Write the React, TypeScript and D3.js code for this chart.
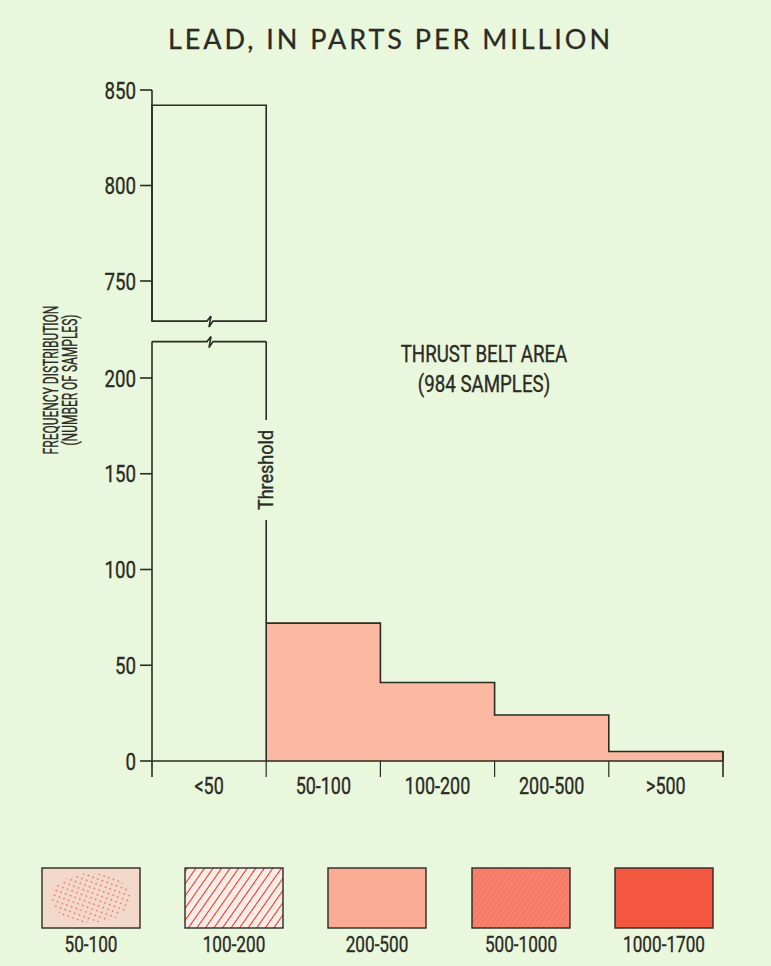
import React from "react";
import * as d3 from "d3";

const categories = ["<50", "50-100", "100-200", "200-500", ">500"];
const counts = [842, 72, 41, 24, 5];
const lowerTicks = [0, 50, 100, 150, 200];
const upperTicks = [750, 800, 850];
const legendLabels = ["50-100", "100-200", "200-500", "500-1000", "1000-1700"];
const legendColors = ["#f3d9c9", "#f8e6da", "#fbab94", "#f7806c", "#f4573f"];

const W = 771;
const H = 966;
const BG = "#e9f7dc";
const INK = "#2b2a25";
const BAR = "#fbb9a1";
const COND = "Roboto, 'Liberation Sans', Arial, sans-serif";

type CTProps = {
  x: number;
  y: number;
  rot?: number;
  sx?: number;
  size: number;
  anchor?: string;
  children: React.ReactNode;
};

function CT({ x, y, rot = 0, sx = 0.78, size, anchor = "middle", children }: CTProps) {
  return (
    <text
      transform={`translate(${x},${y}) rotate(${rot}) scale(${sx},1)`}
      textAnchor={anchor}
      fontFamily={COND}
      fontSize={size}
      fill={INK}
      stroke={INK}
      strokeWidth={0.35}
    >
      {children}
    </text>
  );
}

export default function App() {
  const x = d3.scaleBand<string>().domain(categories).range([152, 723]).paddingInner(0).paddingOuter(0);
  const yLow = d3.scaleLinear().domain([0, 200]).range([761, 378]);
  const yUp = d3.scaleLinear().domain([750, 850]).range([281, 90]);
  const lowTop = 219;
  const upBottom = 729;

  const x0 = x(categories[0])!;
  const xT = x(categories[1])!;
  const xEnd = x.range()[1];
  const breakX = 209;

  const pink = categories.slice(1).map((c, i) => ({ c, v: counts[i + 1] }));
  let step = `M${xT},${yLow(0)}`;
  pink.forEach((d) => {
    const a = x(d.c)!;
    const b = a + x.bandwidth();
    step += ` L${a},${yLow(d.v)} L${b},${yLow(d.v)}`;
  });
  step += ` L${xEnd},${yLow(0)}`;

  const zig = (y: number) =>
    `L${breakX - 2},${y} L${breakX + 2},${y - 5} L${breakX},${y + 6} L${breakX + 4},${y}`;

  const yb = yUp(upBottom);
  const upperBox =
    `M${x0},${yUp(counts[0])} L${xT},${yUp(counts[0])} L${xT},${yb} L${breakX + 4},${yb} ` +
    `L${breakX},${yb + 6} L${breakX + 2},${yb - 5} L${breakX - 2},${yb} L${x0},${yb} Z`;
  const lowerTopPath = `M${x0},${yLow(lowTop)} ${zig(yLow(lowTop))} L${xT},${yLow(lowTop)}`;

  const threshY = 470;
  const legendX = [42, 185, 328, 472, 615];
  const boxW = 98;
  const boxY = 868;
  const boxH = 60;

  return (
    <svg width={W} height={H} style={{ position: "absolute", left: 0, top: 0 }} xmlns="http://www.w3.org/2000/svg">
      <defs>
        <pattern id="dots" width="5" height="5" patternUnits="userSpaceOnUse" patternTransform="rotate(20)">
          <circle cx="2.5" cy="2.5" r="0.85" fill="#e8584a" />
        </pattern>
        <pattern id="hatch" width="7" height="7" patternUnits="userSpaceOnUse" patternTransform="rotate(35)">
          <rect width="7" height="7" fill="#f8ece4" />
          <line x1="0" y1="0" x2="0" y2="7" stroke="#e8322a" strokeWidth="2" />
        </pattern>
        <pattern id="fine" width="4" height="4" patternUnits="userSpaceOnUse" patternTransform="rotate(35)">
          <rect width="4" height="4" fill="#f7836e" />
          <line x1="0" y1="0" x2="0" y2="4" stroke="#f06a58" strokeWidth="1.3" />
        </pattern>
      </defs>
      <rect width={W} height={H} fill={BG} />

      <text x={389} y={49} textAnchor="middle" fontFamily="Lato, 'Noto Sans', sans-serif" fontSize={27}
        fill={INK} stroke={INK} strokeWidth={0.3} textLength={442} lengthAdjust="spacing">LEAD, IN PARTS PER MILLION</text>

      {/* pink bars */}
      <path d={step + " Z"} fill={BAR} stroke="none" />
      <path d={step} fill="none" stroke={INK} strokeWidth={1.6} />

      {/* upper segment */}
      <line x1={x0} x2={x0} y1={yUp(850)} y2={yb} stroke={INK} strokeWidth={1.6} />
      <path d={upperBox} fill="none" stroke={INK} strokeWidth={1.6} />
      {upperTicks.map((t) => (
        <g key={t}>
          <line x1={x0 - 12} x2={x0} y1={yUp(t)} y2={yUp(t)} stroke={INK} strokeWidth={1.6} />
          <CT x={x0 - 16} y={yUp(t) + 8.5} size={24} anchor="end">{t}</CT>
        </g>
      ))}

      {/* lower segment */}
      <line x1={x0} x2={x0} y1={yLow(lowTop)} y2={yLow(0) + 16} stroke={INK} strokeWidth={1.6} />
      <path d={lowerTopPath} fill="none" stroke={INK} strokeWidth={1.6} />
      {lowerTicks.map((t) => (
        <g key={t}>
          <line x1={x0 - 12} x2={x0} y1={yLow(t)} y2={yLow(t)} stroke={INK} strokeWidth={1.6} />
          <CT x={x0 - 16} y={yLow(t) + 8.5} size={24} anchor="end">{t}</CT>
        </g>
      ))}
      <line x1={x0} x2={xEnd} y1={yLow(0)} y2={yLow(0)} stroke={INK} strokeWidth={1.6} />
      {categories.slice(1).map((c) => (
        <line key={c} x1={x(c)!} x2={x(c)!} y1={yLow(0)} y2={yLow(0) + 16} stroke={INK} strokeWidth={1.2} />
      ))}
      <line x1={xEnd} x2={xEnd} y1={yLow(counts[4])} y2={yLow(0) + 16} stroke={INK} strokeWidth={1.6} />
      {categories.map((c) => (
        <CT key={c} x={x(c)! + x.bandwidth() / 2} y={794} size={23}>{c}</CT>
      ))}

      {/* threshold line */}
      <line x1={xT} x2={xT} y1={yLow(lowTop)} y2={threshY - 50} stroke={INK} strokeWidth={1.6} />
      <line x1={xT} x2={xT} y1={threshY + 50} y2={yLow(counts[1])} stroke={INK} strokeWidth={1.6} />
      <CT x={xT + 7} y={threshY} rot={-90} sx={0.9} size={20}>Threshold</CT>

      {/* y axis title */}
      <CT x={58} y={380} rot={-90} sx={0.6} size={20}>FREQUENCY  DISTRIBUTION</CT>
      <CT x={77} y={380} rot={-90} sx={0.6} size={20}>(NUMBER  OF  SAMPLES)</CT>

      {/* annotation */}
      <CT x={484} y={362} size={24}>THRUST BELT AREA</CT>
      <CT x={484} y={392} size={24}>(984 SAMPLES)</CT>

      {/* legend */}
      {legendLabels.map((l, i) => (
        <g key={l}>
          <rect x={legendX[i]} y={boxY} width={boxW} height={boxH} fill={legendColors[i]} />
          {i === 0 && <ellipse cx={legendX[i] + boxW / 2} cy={boxY + boxH / 2} rx={40} ry={25} fill="url(#dots)" />}
          {i === 1 && <rect x={legendX[i]} y={boxY} width={boxW} height={boxH} fill="url(#hatch)" />}
          {i === 3 && <rect x={legendX[i]} y={boxY} width={boxW} height={boxH} fill="url(#fine)" />}
          <rect x={legendX[i]} y={boxY} width={boxW} height={boxH} fill="none" stroke={INK} strokeWidth={1.4} />
          <CT x={legendX[i] + boxW / 2} y={boxY + 84} size={22}>{l}</CT>
        </g>
      ))}
    </svg>
  );
}
